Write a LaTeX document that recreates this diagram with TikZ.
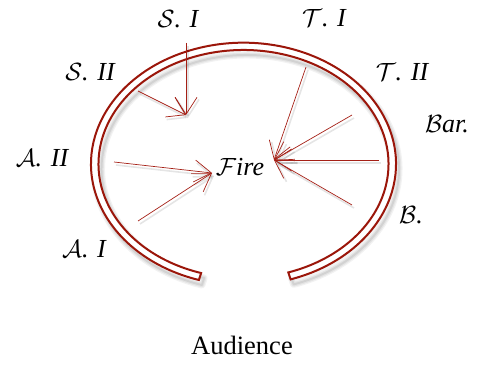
\documentclass[tikz,border=0pt]{standalone}
\usepackage{fontspec}
\setmainfont{Liberation Serif}
\usetikzlibrary{arrows.meta}
\definecolor{ringred}{RGB}{155,22,10}
\definecolor{arrred}{RGB}{165,32,22}
\tikzset{
  arr/.style={draw=arrred, line width=0.7pt, -{Straight Barb[length=17pt,width=22pt]}},
  arrshadow/.style={draw=black, opacity=0.10, line width=1.6pt, -{Straight Barb[length=17pt,width=22pt]}, transform canvas={shift={(2pt,-3pt)}}},
  lbl/.style={anchor=base, font=\fontsize{26}{30}\selectfont\itshape, inner sep=0pt},
}
\newcommand{\ringshape}{({152.5*cos(-72)},{121.3*sin(-72)}) arc[start angle=-72,end angle=253,x radius=152.5,y radius=121.3] -- ({145*cos(253)},{114*sin(253)}) arc[start angle=253,end angle=-72,x radius=145,y radius=114] -- cycle}
\begin{document}
\begin{tikzpicture}[x=1pt,y=1pt]
\useasboundingbox (0,0) rectangle (477,365);
% ring shadow
\begin{scope}[shift={(246.5,196)}]
  \foreach \w/\o in {7/0.05,4.5/0.06,2/0.08}{
    \draw[black, opacity=\o, line width=\w pt, line join=round] \ringshape;
  }
\end{scope}
% ring
\begin{scope}[shift={(243.5,201)}]
  \filldraw[draw=ringred, fill=white, line width=2pt, line join=miter] \ringshape;
\end{scope}
% coordinates
\coordinate (si0) at (186,322);
\coordinate (sii0) at (138,274);
\coordinate (stip) at (186,250);
\coordinate (aii0) at (114,203);
\coordinate (ai0) at (138,144);
\coordinate (atip) at (212,192);
\coordinate (ti0) at (306,298);
\coordinate (tii0) at (352,250);
\coordinate (bar0) at (379,205);
\coordinate (b0) at (352,160);
\coordinate (ttip) at (274,205);
% arrow shadows
\foreach \s/\t in {si0/stip,sii0/stip,aii0/atip,ai0/atip,ti0/ttip,tii0/ttip,bar0/ttip,b0/ttip}{
  \draw[arrshadow] (\s) -- (\t);
}
% arrows
\foreach \s/\t in {si0/stip,sii0/stip,aii0/atip,ai0/atip,ti0/ttip,tii0/ttip,bar0/ttip,b0/ttip}{
  \draw[arr] (\s) -- (\t);
}
% labels
\node[lbl] (si) at (178,337) {$\mathcal{S}$. I};
\node[lbl] (ti) at (324,338) {$\mathcal{T}$. I};
\node[lbl] (sii) at (90,284) {$\mathcal{S}$. II};
\node[lbl] (tii) at (402,284) {$\mathcal{T}$. II};
\node[lbl] (aii) at (42,199) {$\mathcal{A}$. II};
\node[lbl] (bar) at (447,233) {$\mathcal{B}$ar.};
\node[lbl] (fire) at (240,190) {$\mathcal{F}$ire};
\node[lbl] (b) at (411,142) {$\mathcal{B}$.};
\node[lbl] (ai) at (84,108) {$\mathcal{A}$. I};
\node[anchor=base, font=\fontsize{26.5}{30}\selectfont, inner sep=0pt] (aud) at (242,11) {Audience};
\end{tikzpicture}
\end{document}
